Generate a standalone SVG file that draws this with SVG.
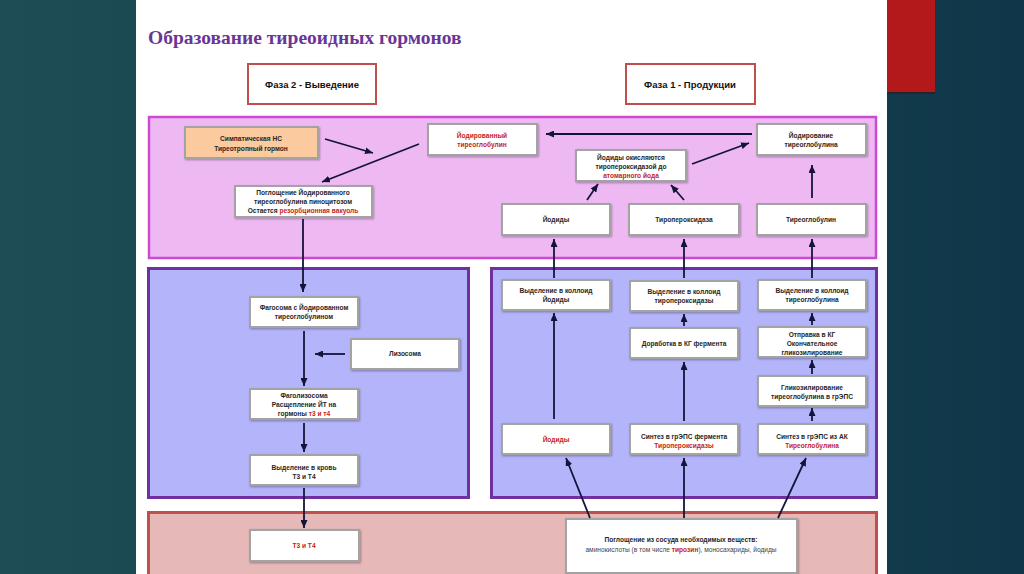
<svg xmlns="http://www.w3.org/2000/svg" width="1024" height="574" viewBox="0 0 1024 574">
<defs>
<linearGradient id="bg" x1="0" y1="0" x2="1" y2="0">
<stop offset="0" stop-color="#1e4d55"/>
<stop offset="1" stop-color="#0f3749"/>
</linearGradient>
<marker id="ah" markerUnits="userSpaceOnUse" markerWidth="8" markerHeight="7" refX="8" refY="3.5" orient="auto">
<path d="M0,0 L8,3.5 L0,7 z" fill="#14143a"/>
</marker>
<filter id="sh" x="-10%" y="-10%" width="130%" height="140%">
<feDropShadow dx="1" dy="1.2" stdDeviation="0.8" flood-color="#000" flood-opacity="0.3"/>
</filter>
</defs>
<style>
.box{fill:#fff;stroke:#a3a3a3;stroke-width:2;filter:url(#sh)}
.t{font-family:"Liberation Sans",Arial,sans-serif;font-size:6.6px;font-weight:bold;fill:#262626;text-anchor:middle}
.n{font-weight:normal;fill:#444}
.r{fill:#c61d23}
.rb{fill:#c61d23;font-weight:bold}
.ph{fill:#fff;stroke:#c0504d;stroke-width:2}
.pt{font-family:"Liberation Sans",Arial,sans-serif;font-size:9.5px;font-weight:bold;fill:#111;text-anchor:middle}
.con line{stroke:#14143a;stroke-width:1.8;marker-end:url(#ah)}
</style>
<rect x="0" y="0" width="1024" height="574" fill="url(#bg)"/>
<rect x="136" y="0" width="751" height="574" fill="#fff"/>
<rect x="887" y="0" width="48" height="94" fill="#3a1010" opacity="0.5"/>
<rect x="887" y="0" width="48" height="92" fill="#b3191a"/>
<text x="148" y="44" font-family="'Liberation Serif','Times New Roman',serif" font-size="19.5" font-weight="bold" fill="#6a3596">Образование тиреоидных гормонов</text>

<g id="phase2"><rect class="ph" x="248" y="64" width="128" height="40"/><text class="pt" x="312" y="88">Фаза 2 - Выведение</text></g>
<g id="phase1"><rect class="ph" x="626" y="64" width="129" height="40"/><text class="pt" x="690" y="88">Фаза 1 - Продукции</text></g>

<g id="regions">
<rect x="149" y="117" width="727" height="141" fill="#eeb9f3" stroke="#cf48d2" stroke-width="2.5"/>
<rect x="148.5" y="268.5" width="320" height="229" fill="#b4b4fa" stroke="#7030a0" stroke-width="3"/>
<rect x="491.5" y="268.5" width="385" height="229" fill="#b4b4fa" stroke="#7030a0" stroke-width="3"/>
<rect x="148.5" y="512.5" width="728" height="70" fill="#e6b8b8" stroke="#c0504d" stroke-width="3"/>
</g>

<g id="n_symp"><rect x="185" y="127" width="133" height="31" fill="#fbca9f" stroke="#a3a3a3" stroke-width="2" filter="url(#sh)"/><text class="t" x="251" y="141">Симпатическая НС</text><text class="t" x="251" y="151">Тиреотропный гормон</text></g>
<g id="n_iodtg"><rect class="box" x="428" y="124" width="109" height="31"/><text class="t r" x="482" y="138">Йодированный</text><text class="t r" x="482" y="147">тиреоглобулин</text></g>
<g id="n_iodation"><rect class="box" x="757" y="124" width="109" height="31"/><text class="t" x="811" y="138">Йодирование</text><text class="t" x="811" y="147">тиреоглобулина</text></g>
<g id="n_oxid"><rect class="box" x="576" y="150" width="110" height="31"/><text class="t" x="631" y="160">Йодиды окисляются</text><text class="t" x="631" y="169">тиропероксидазой до</text><text class="t r" x="631" y="178">атомарного йода</text></g>
<g id="n_uptake"><rect class="box" x="235" y="186" width="137" height="31"/><text class="t" x="303" y="195">Поглощение Йодированного</text><text class="t" x="303" y="204">тиреоглобулина пиноцитозом</text><text class="t" x="303" y="213">Остается <tspan class="r">резорбционная вакуоль</tspan></text></g>
<g id="n_iodides1"><rect class="box" x="502" y="204" width="108" height="31"/><text class="t" x="556" y="222">Йодиды</text></g>
<g id="n_tpo1"><rect class="box" x="629" y="204" width="110" height="31"/><text class="t" x="684" y="222">Тиропероксидаза</text></g>
<g id="n_tg1"><rect class="box" x="757" y="204" width="109" height="31"/><text class="t" x="811" y="222">Тиреоглобулин</text></g>

<g id="n_phago"><rect class="box" x="250" y="297" width="108" height="30"/><text class="t" x="304" y="310">Фагосома с Йодированном</text><text class="t" x="304" y="319">тиреоглобулином</text></g>
<g id="n_lyso"><rect class="box" x="351" y="339" width="108" height="30"/><text class="t" x="405" y="356">Лизосома</text></g>
<g id="n_phagolyso"><rect class="box" x="250" y="389" width="108" height="30"/><text class="t" x="304" y="398">Фаголизосома</text><text class="t" x="304" y="407">Расщепление ЙТ на</text><text class="t" x="304" y="416">гормоны <tspan class="r">т3 и т4</tspan></text></g>
<g id="n_blood"><rect class="box" x="250" y="455" width="108" height="30"/><text class="t" x="304" y="470">Выделение в кровь</text><text class="t" x="304" y="479">Т3 и Т4</text></g>

<g id="n_col_iod"><rect class="box" x="502" y="280" width="108" height="30"/><text class="t" x="556" y="293">Выделение в коллоид</text><text class="t" x="556" y="302">Йодиды</text></g>
<g id="n_iodides2"><rect class="box" x="502" y="424" width="108" height="30"/><text class="t r" x="556" y="442">Йодиды</text></g>
<g id="n_col_tpo"><rect class="box" x="630" y="281" width="108" height="30"/><text class="t" x="684" y="294">Выделение в коллоид</text><text class="t" x="684" y="303">тиропероксидазы</text></g>
<g id="n_golgi_tpo"><rect class="box" x="630" y="328" width="108" height="30"/><text class="t" x="684" y="345.5">Доработка в КГ фермента</text></g>
<g id="n_syn_tpo"><rect class="box" x="630" y="424" width="108" height="30"/><text class="t" x="684" y="439">Синтез в грЭПС фермента</text><text class="t r" x="684" y="448">Тиропероксидазы</text></g>
<g id="n_col_tg"><rect class="box" x="758" y="280" width="108" height="30"/><text class="t" x="812" y="293">Выделение в коллоид</text><text class="t" x="812" y="302">тиреоглобулина</text></g>
<g id="n_golgi_tg"><rect class="box" x="758" y="327" width="108" height="30"/><text class="t" x="812" y="337">Отправка в КГ</text><text class="t" x="812" y="346">Окончательное</text><text class="t" x="812" y="355">гликозилирование</text></g>
<g id="n_glyc_tg"><rect class="box" x="758" y="376" width="108" height="30"/><text class="t" x="812" y="389.5">Гликозилирование</text><text class="t" x="812" y="398.5">тиреоглобулина в грЭПС</text></g>
<g id="n_syn_tg"><rect class="box" x="758" y="424" width="108" height="30"/><text class="t" x="812" y="439">Синтез в грЭПС из АК</text><text class="t r" x="812" y="448">Тиреоглобулина</text></g>

<g id="n_t3t4"><rect class="box" x="250" y="530" width="109" height="31"/><text class="t r" x="304" y="548">Т3 и Т4</text></g>
<g id="n_vessel"><rect class="box" x="566" y="519" width="231" height="54"/><text class="t" x="681" y="542">Поглощение из сосуда необходимых веществ:</text><text class="t n" x="681" y="552">аминокислоты (в том числе <tspan class="rb">тирозин</tspan>), моносахариды, йодиды</text></g>

<g id="connectors" class="con">
<line x1="325" y1="139" x2="373" y2="153"/>
<line x1="419" y1="144" x2="322" y2="182"/>
<line x1="752" y1="134" x2="546" y2="134"/>
<line x1="692" y1="164" x2="749" y2="143"/>
<line x1="587" y1="200" x2="598" y2="184"/>
<line x1="684" y1="200" x2="671" y2="185"/>
<line x1="812" y1="198" x2="812" y2="165"/>
<line x1="303" y1="219" x2="303" y2="292"/>
<line x1="304" y1="331" x2="304" y2="386"/>
<line x1="345" y1="354" x2="315" y2="354"/>
<line x1="304" y1="423" x2="304" y2="452"/>
<line x1="304" y1="488" x2="304" y2="528"/>
<line x1="554" y1="278" x2="554" y2="239"/>
<line x1="684" y1="278" x2="684" y2="239"/>
<line x1="812" y1="278" x2="812" y2="239"/>
<line x1="554" y1="419" x2="554" y2="313"/>
<line x1="684" y1="421" x2="684" y2="362"/>
<line x1="684" y1="326" x2="684" y2="314"/>
<line x1="812" y1="421" x2="812" y2="408"/>
<line x1="812" y1="374" x2="812" y2="360"/>
<line x1="812" y1="325" x2="812" y2="313"/>
<line x1="590" y1="518" x2="566" y2="458"/>
<line x1="684" y1="518" x2="684" y2="458"/>
<line x1="778" y1="518" x2="806" y2="458"/>
</g>
</svg>
